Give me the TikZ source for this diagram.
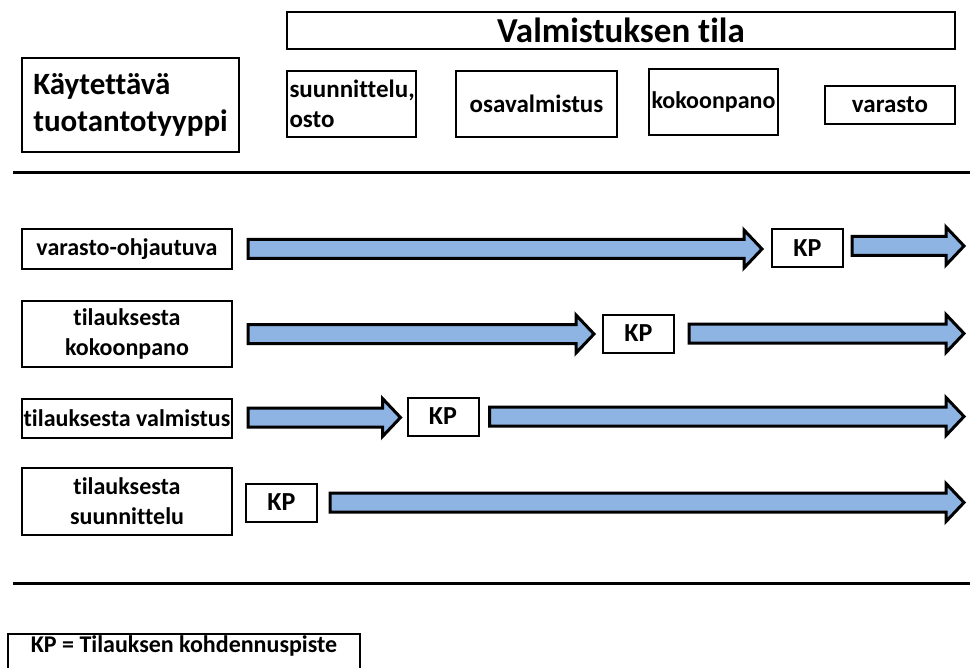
\documentclass[tikz,border=0pt]{standalone}
\usepackage{fontspec}
\setmainfont[Ligatures=NoCommon]{Carlito}
\usetikzlibrary{calc}
\definecolor{arrowBlue}{HTML}{8DB4E2}

\newcommand{\blockarrow}[2]{%
  \draw[blockarr] let \p1=(#1), \p2=(#2) in
    (\x1,\y1-4.75pt) -- (\x2-9pt,\y1-4.75pt) -- (\x2-9pt,\y1-9.5pt) -- (\x2,\y1)
    -- (\x2-9pt,\y1+9.5pt) -- (\x2-9pt,\y1+4.75pt) -- (\x1,\y1+4.75pt) -- cycle;}

\begin{document}
\begin{tikzpicture}[x=0.5pt, y=-0.5pt,
    box/.style={rectangle, draw=black, line width=1pt, fill=white, inner sep=1pt,
                font=\bfseries},
    phase/.style={box, minimum height=33pt, font=\fontsize{12.5}{15}\selectfont\bfseries},
    rowlab/.style={box, minimum width=105pt, align=center,
                   font=\fontsize{12}{15}\selectfont\bfseries},
    kpbox/.style={box, minimum width=35.5pt, minimum height=19pt,
                  font=\fontsize{13}{15}\selectfont\bfseries},
    blockarr/.style={draw=black, line width=1.5pt, fill=arrowBlue, line join=miter},
    rule/.style={line width=1.5pt},
  ]
    \useasboundingbox (0,0) rectangle (974,668);

    % ─── Header ───
    \node[box, minimum width=334pt, minimum height=18.5pt,
          font=\fontsize{17.5}{20}\selectfont\bfseries] (tila) at (621,30.5) {Valmistuksen tila};
    \node[box, minimum width=108.5pt, minimum height=47pt, align=left,
          font=\fontsize{15.5}{18.5}\selectfont\bfseries] (tyyppi) at (130.5,105)
      {Käytettävä\\tuotantotyyppi};
    \node[phase, minimum width=64.5pt, text width=62pt, align=left] (suun) at (351.5,104)
      {suunnittelu,\\osto};
    \node[phase, minimum width=80.5pt] (osa) at (536.5,104) {osavalmistus};
    \node[phase, minimum width=64.5pt, inner sep=0pt, font=\fontsize{12}{15}\selectfont\bfseries]
      (koko) at (713.5,102) {kokoonpano};
    \node[phase, minimum width=65pt, minimum height=19pt] (var) at (890,105) {varasto};

    \draw[rule] (13,173) -- (970,173);

    % ─── Rows ───
    \node[rowlab, minimum height=20pt] (vo) at (127,249) {varasto-ohjautuva};
    \node[rowlab, minimum height=33pt] (tk) at (127,334) {tilauksesta\\kokoonpano};
    \node[rowlab, minimum height=19.5pt, inner sep=0pt] (tv) at (127,418.5) {tilauksesta valmistus};
    \node[rowlab, minimum height=33.5pt] (ts) at (127,501.5) {tilauksesta\\suunnittelu};

    \node[kpbox] (kp1) at (807.5,248) {KP};
    \node[kpbox] (kp2) at (638.5,333.5) {KP};
    \node[kpbox] (kp3) at (443,416.5) {KP};
    \node[kpbox] (kp4) at (281.5,502.5) {KP};

    \foreach \n/\y in {1/249, 2/334, 3/417, 4/503}
      \coordinate (end\n) at (964,\y);

    \blockarrow{$(vo.east)+(7.5pt,0)$}{$(kp1.west)+(-4.5pt,0)$}
    \blockarrow{$(kp1.east)+(4pt,1pt)$}{end1}
    \blockarrow{$(tk.east)+(7.5pt,0)$}{$(kp2.west)+(-4pt,0)$}
    \blockarrow{$(kp2.east)+(7pt,0)$}{end2}
    \blockarrow{$(tv.east)+(7.5pt,0.5pt)$}{$(kp3.west)+(-3pt,0)$}
    \blockarrow{$(kp3.east)+(5pt,0)$}{end3}
    \blockarrow{$(kp4.east)+(6pt,0)$}{end4}

    \draw[rule] (13,583) -- (970,583);

    % ─── Legend ───
    \node[box, anchor=north, minimum width=176pt, inner ysep=0.5pt, text height=8.5pt,
          text depth=20pt, font=\fontsize{12}{15}\selectfont\bfseries] (selite) at (184,633)
      {KP = Tilauksen kohdennuspiste};
\end{tikzpicture}
\end{document}
